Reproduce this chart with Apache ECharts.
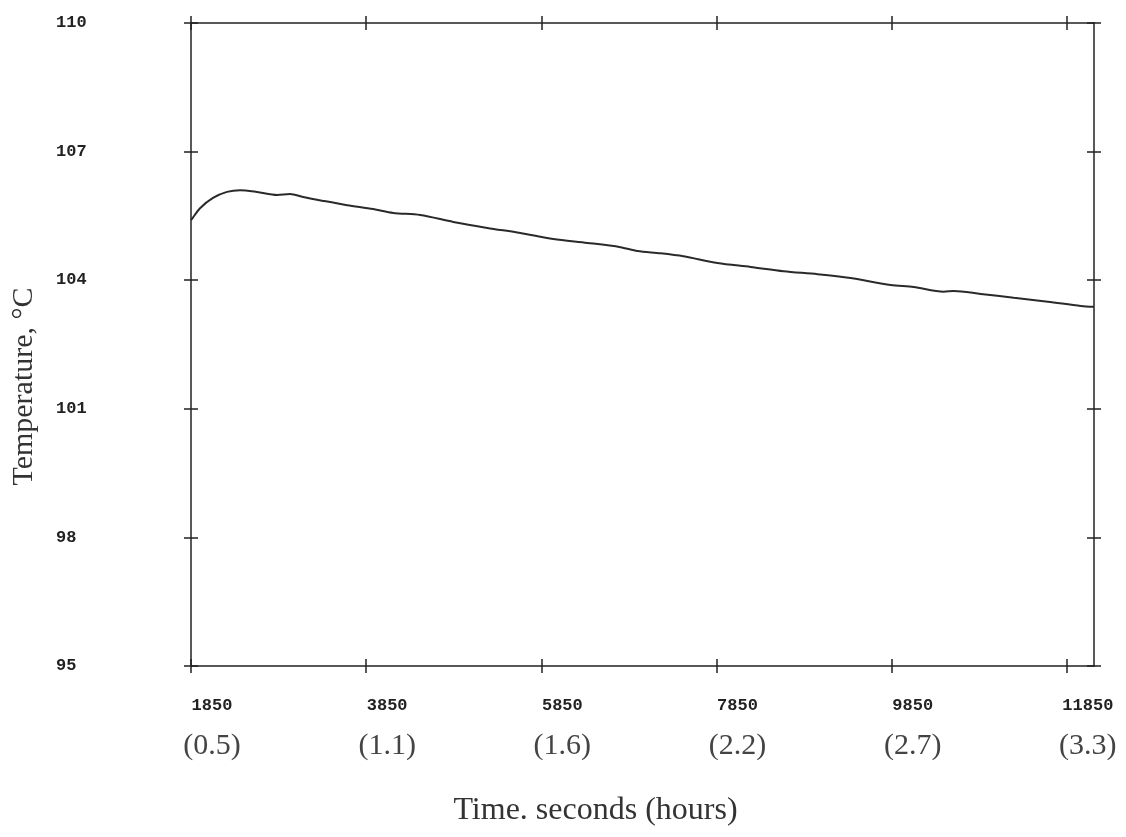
<!DOCTYPE html>
<html>
<head>
<meta charset="utf-8">
<title>Temperature vs time</title>
<script src="https://cdn.jsdelivr.net/npm/echarts@6/dist/echarts.min.js"></script>
<style>
  html, body { margin: 0; padding: 0; background: #ffffff; }
  #chart { width: 1126px; height: 837px; }
</style>
</head>
<body>
<div id="chart"></div>
<script>
// tick labels
const xTickValues = [1850, 3850, 5850, 7850, 9850, 11850];
const xTickHours = ['0.5', '1.1', '1.6', '2.2', '2.7', '3.3'];
const yTickValues = [95, 98, 101, 104, 107, 110];

// temperature curve (seconds, degC)
const timeSec = [1850, 1861, 1953, 2101, 2261, 2410, 2604, 2833, 2981, 3130, 3359, 3633, 3930, 4159, 4467,
  4844, 5233, 5610, 5987, 6376, 6753, 6947, 7210, 7473, 7861, 8239, 8616, 9004, 9381, 9838,
  10101, 10444, 10559, 10867, 11244, 11633, 12010, 12160];
const tempC = [105.40, 105.43, 105.68, 105.92, 106.06, 106.10, 106.06, 105.99, 106.01, 105.94, 105.85, 105.75, 105.66, 105.57, 105.52,
  105.36, 105.22, 105.10, 104.96, 104.87, 104.77, 104.68, 104.63, 104.56, 104.40, 104.31, 104.21, 104.14, 104.05, 103.89,
  103.84, 103.73, 103.75, 103.68, 103.59, 103.50, 103.40, 103.38];

const X_MIN = 1850, X_MAX = 12160;
const Y_MIN = 95, Y_MAX = 110;
const ink = '#222';

// one axis per side and tick direction, so each tick draws as a small cross
function xAx(pos, inside, extra) {
  return Object.assign({
    type: 'value', position: pos, min: X_MIN, max: X_MAX,
    axisLine: { show: !inside, lineStyle: { color: ink, width: 1.5 } },
    axisTick: { show: true, inside: inside, length: 7, customValues: xTickValues,
      lineStyle: { color: ink, width: 1.5 } },
    axisLabel: { show: false },
    splitLine: { show: false }
  }, extra || {});
}
function yAx(pos, inside, extra) {
  return Object.assign({
    type: 'value', position: pos, min: Y_MIN, max: Y_MAX,
    axisLine: { show: !inside, lineStyle: { color: ink, width: 1.5 } },
    axisTick: { show: true, inside: inside, length: 7, customValues: yTickValues,
      lineStyle: { color: ink, width: 1.5 } },
    axisLabel: { show: false },
    splitLine: { show: false }
  }, extra || {});
}

let chart = echarts.init(document.getElementById('chart'));
chart.setOption({
  backgroundColor: '#ffffff',
  animation: false,
  grid: { left: 191, right: 32, top: 23, bottom: 171 },
  xAxis: [
    xAx('bottom', false, {
      name: 'Time. seconds (hours)',
      nameLocation: 'middle',
      nameGap: 129,
      nameTextStyle: { fontFamily: 'Liberation Serif', fontSize: 32, color: '#333', padding: [0, 94, 0, 0] },
      axisLabel: {
        show: true,
        customValues: xTickValues,
        margin: 28,
        align: 'center',
        padding: [0, 0, 0, 42],
        formatter: function (v) {
          const i = xTickValues.indexOf(v);
          return '{a|' + v + '}\n{b|(' + xTickHours[i] + ')}';
        },
        rich: {
          a: { fontFamily: 'Liberation Mono', fontWeight: 'bold', fontSize: 17, color: ink, lineHeight: 24 },
          b: { fontFamily: 'Liberation Serif', fontSize: 30, color: '#444', lineHeight: 56 }
        }
      }
    }),
    xAx('bottom', true),
    xAx('top', false),
    xAx('top', true)
  ],
  yAxis: [
    yAx('left', false, {
      name: 'Temperature, °C',
      nameLocation: 'middle',
      nameGap: 152,
      nameTextStyle: { fontFamily: 'Liberation Serif', fontSize: 30, color: '#333', padding: [0, 84, 0, 0] },
      axisLabel: {
        show: true,
        customValues: yTickValues,
        margin: 135,
        align: 'left',
        fontFamily: 'Liberation Mono',
        fontWeight: 'bold',
        fontSize: 17,
        color: ink
      }
    }),
    yAx('left', true),
    yAx('right', false),
    yAx('right', true)
  ],
  series: [
    {
      type: 'line',
      xAxisIndex: 0,
      yAxisIndex: 0,
      data: timeSec.map((t, i) => [t, tempC[i]]),
      showSymbol: false,
      smooth: 0.3,
      lineStyle: { color: '#2a2a2a', width: 2 }
    }
  ]
});
</script>
</body>
</html>
